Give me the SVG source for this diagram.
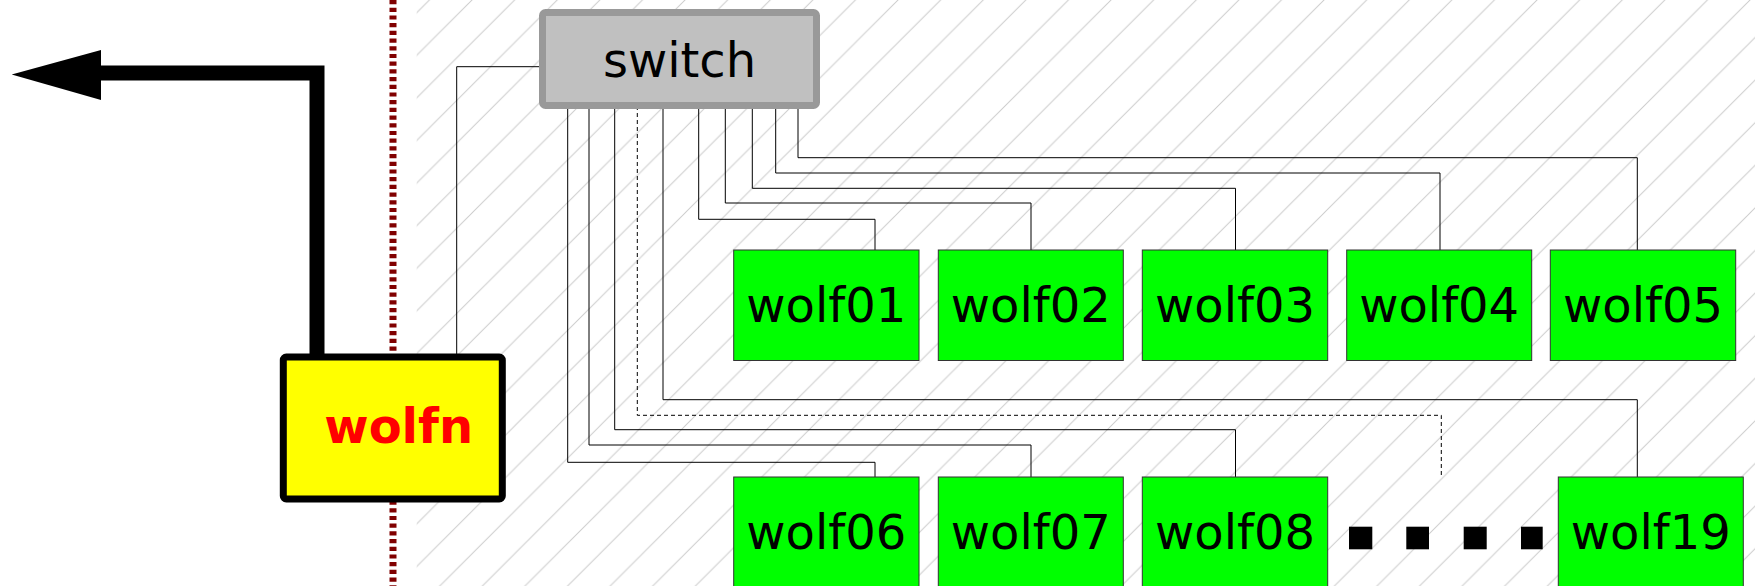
<svg xmlns="http://www.w3.org/2000/svg" width="1755" height="586" viewBox="0 0 1755 586">
  <style>
    .wire { fill: none; stroke: #000; stroke-width: 1; }
    .dashed { stroke-dasharray: 4 3; }
    .host rect { fill: #00ff00; stroke: #333; stroke-width: 1; }
    .host text, .sw text { font-family: "DejaVu Sans", sans-serif; font-size: 48px; fill: #000; text-anchor: middle; }
  </style>
  <defs>
    <pattern id="hatch" patternUnits="userSpaceOnUse" x="3.4" y="0" width="42.6" height="42.6">
      <path d="M-5,5 L5,-5 M0,42.6 L42.6,0 M37.6,47.6 L47.6,37.6" stroke="#cccccc" stroke-width="1" fill="none"/>
    </pattern>
  </defs>
  <rect x="0" y="0" width="1755" height="586" fill="#fff"/>
  <rect id="hatched-area" x="416.7" y="0" width="1338.3" height="586" fill="url(#hatch)"/>
  <line id="boundary" x1="393" y1="0" x2="393" y2="586" stroke="#800000" stroke-width="7" stroke-dasharray="4.2 3.5"/>

  <g id="connectors">
    <polyline points="317,357 317,73 98,73" fill="none" stroke="#000" stroke-width="15"/>
    <polygon points="11.7,74.5 101,50 101,100" fill="#000"/>
    <polyline class="wire" points="456.7,354 456.7,66.7 542,66.7"/>
    <polyline class="wire" points="567.7,106 567.7,462.3 875,462.3 875,477"/>
    <polyline class="wire" points="589,106 589,445 1031,445 1031,477"/>
    <polyline class="wire" points="614.7,106 614.7,429.7 1235.5,429.7 1235.5,477"/>
    <polyline class="wire dashed" points="637.3,106 637.3,415.3 1441.3,415.3 1441.3,477"/>
    <polyline class="wire" points="663,106 663,399.7 1637.3,399.7 1637.3,477"/>
    <polyline class="wire" points="698.7,106 698.7,219.3 875,219.3 875,250"/>
    <polyline class="wire" points="725.3,106 725.3,203 1031,203 1031,250"/>
    <polyline class="wire" points="752.3,106 752.3,188.3 1235.5,188.3 1235.5,250"/>
    <polyline class="wire" points="775.7,106 775.7,173 1440,173 1440,250"/>
    <polyline class="wire" points="798,106 798,157.7 1637.3,157.7 1637.3,250"/>
  </g>

  <g id="switch" class="sw">
    <rect x="542.5" y="12.5" width="274" height="93" rx="3" fill="#c0c0c0" stroke="#999999" stroke-width="7"/>
    <text x="679.5" y="77">switch</text>
  </g>

  <g id="wolfn">
    <rect x="283.3" y="357" width="219" height="142" rx="3" fill="#ffff00" stroke="#000" stroke-width="7"/>
    <text x="398.7" y="443" font-family="DejaVu Sans, sans-serif" font-weight="bold" font-size="48" fill="#ff0000" text-anchor="middle">wolfn</text>
  </g>

  <g id="wolf01" class="host"><rect x="733.7" y="250" width="185.3" height="110.5"/><text x="826.3" y="322">wolf01</text></g>
  <g id="wolf02" class="host"><rect x="938.3" y="250" width="185" height="110.5"/><text x="1030.8" y="322">wolf02</text></g>
  <g id="wolf03" class="host"><rect x="1142.3" y="250" width="185.4" height="110.5"/><text x="1235" y="322">wolf03</text></g>
  <g id="wolf04" class="host"><rect x="1346.7" y="250" width="185" height="110.5"/><text x="1439.2" y="322">wolf04</text></g>
  <g id="wolf05" class="host"><rect x="1550.3" y="250" width="185.4" height="110.5"/><text x="1643" y="322">wolf05</text></g>

  <g id="wolf06" class="host"><rect x="733.7" y="477" width="185.3" height="115"/><text x="826.3" y="549">wolf06</text></g>
  <g id="wolf07" class="host"><rect x="938.3" y="477" width="185" height="115"/><text x="1030.8" y="549">wolf07</text></g>
  <g id="wolf08" class="host"><rect x="1142.3" y="477" width="185.4" height="115"/><text x="1235" y="549">wolf08</text></g>
  <g id="wolf19" class="host"><rect x="1558.3" y="477" width="185" height="115"/><text x="1650.8" y="549">wolf19</text></g>

  <g id="ellipsis" fill="#000">
    <rect x="1349" y="526.7" width="23.3" height="22.6"/>
    <rect x="1406.3" y="526.7" width="22.7" height="22.6"/>
    <rect x="1463.7" y="526.7" width="23" height="22.6"/>
    <rect x="1521" y="526.7" width="21.7" height="22.6"/>
  </g>
</svg>
